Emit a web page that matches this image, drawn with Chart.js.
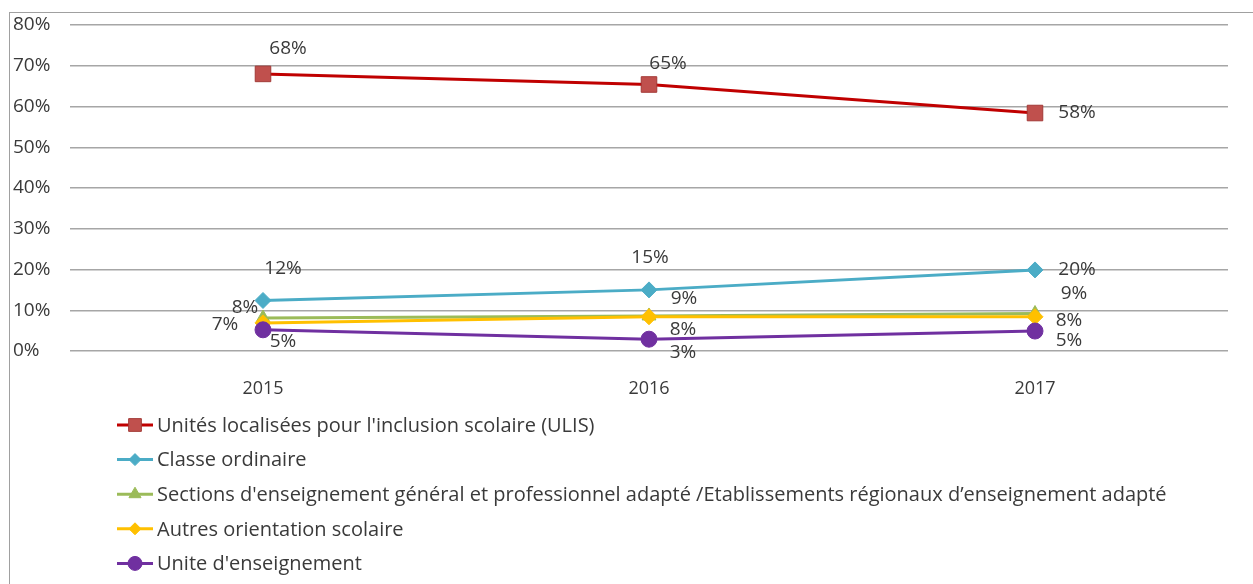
<!DOCTYPE html>
<html>
<head>
<meta charset="utf-8">
<script src="https://cdn.jsdelivr.net/npm/chart.js@4"></script>
<style>
  html, body { margin: 0; padding: 0; background: #fff; }
  #wrap { position: relative; width: 1253px; height: 584px; }
  #frame { position: absolute; left: 9px; top: 12px; right: 0; bottom: 0;
           border-left: 1px solid #a0a0a0; border-top: 1px solid #a0a0a0; }
  canvas { position: absolute; left: 0; top: 0; }
</style>
</head>
<body>
<div id="wrap">
  <div id="frame"></div>
  <canvas id="lineChart" width="1253" height="584"></canvas>
</div>
<script>
const years = ['2015', '2016', '2017'];
const seriesNames = [
  "Unités localisées pour l'inclusion scolaire (ULIS)",
  'Classe ordinaire',
  "Sections d'enseignement général et professionnel adapté /Etablissements régionaux d’enseignement adapté",
  'Autres orientation scolaire',
  "Unite d'enseignement"
];
const ulis = [68, 65.4, 58.4];
const classeOrdinaire = [12.4, 15, 19.9];
const segpaErea = [8.1, 8.6, 9.2];
const autres = [6.9, 8.4, 8.4];
const uniteEns = [5.2, 2.9, 4.9];
const yTicks = [0, 10, 20, 30, 40, 50, 60, 70, 80];

const colors = ['#c00000', '#4bacc6', '#9bbb59', '#ffc000', '#7030a0'];
const markerFill = ['#c0504d', '#4bacc6', '#9bbb59', '#ffc000', '#7030a0'];
const markers = ['rect', 'rectRot', 'triangle', 'rectRot', 'circle'];
const markerSize = [11, 8, 8, 8, 8];
const legendMarkerSize = [9, 6, 7, 6, 7];

// label offsets (dx, dy) from each point, per series
const labelOffsets = [
  [[25, -25], [19, -21], [42, 0]],
  [[20, -32], [1, -32], [42, 0]],
  [[-18, -10], [35, -17], [39, -20]],
  [[-38, 2], [34, 13], [34, 4]],
  [[20, 12], [34, 13], [34, 10]]
];

const values = [ulis, classeOrdinaire, segpaErea, autres, uniteEns];
const FONT = 'Open Sans';
const textColor = '#3a3a3a';

const datasets = values.map((v, i) => ({
  label: seriesNames[i],
  data: v,
  borderColor: colors[i],
  backgroundColor: markerFill[i],
  pointBackgroundColor: markerFill[i],
  pointBorderColor: i === 0 ? '#a33a37' : markerFill[i],
  pointBorderWidth: 1,
  pointStyle: markers[i],
  pointRadius: markerSize[i],
  borderWidth: 3,
  tension: 0,
  order: values.length - i
}));

const dataLabels = {
  id: 'dataLabels',
  afterDatasetsDraw(chart) {
    const c = chart.ctx;
    c.save();
    c.font = '19px "' + FONT + '"';
    c.fillStyle = textColor;
    c.textAlign = 'center';
    c.textBaseline = 'middle';
    chart.data.datasets.forEach((ds, i) => {
      chart.getDatasetMeta(i).data.forEach((pt, j) => {
        const off = labelOffsets[i][j];
        c.fillText(Math.round(ds.data[j]) + '%', pt.x + off[0], pt.y + off[1]);
      });
    });
    c.restore();
  }
};

const legendBlock = {
  id: 'legendBlock',
  afterDraw(chart) {
    const c = chart.ctx;
    const x0 = 117, rowTop = 425, rowGap = 34.6;
    c.save();
    c.font = '20px "' + FONT + '"';
    c.textBaseline = 'middle';
    chart.data.datasets.forEach((ds, i) => {
      const y = rowTop + i * rowGap;
      c.strokeStyle = ds.borderColor;
      c.lineWidth = 3;
      c.beginPath();
      c.moveTo(x0, y);
      c.lineTo(x0 + 36, y);
      c.stroke();
      c.fillStyle = ds.pointBackgroundColor;
      c.strokeStyle = ds.pointBorderColor;
      c.lineWidth = 1;
      Chart.helpers.drawPoint(c, { pointStyle: ds.pointStyle, radius: legendMarkerSize[i], rotation: 0, borderWidth: 1 }, x0 + 18, y);
      c.fillStyle = textColor;
      c.fillText(ds.label, x0 + 40, y + 1);
    });
    c.restore();
  }
};

new Chart(document.getElementById('lineChart'), {
  type: 'line',
  data: { labels: years, datasets: datasets },
  options: {
    responsive: false,
    animation: false,
    layout: { padding: { left: 13, right: 25, top: 25, bottom: 0 } },
    plugins: { legend: { display: false }, tooltip: { enabled: false } },
    scales: {
      x: {
        offset: true,
        grid: { display: false },
        border: { display: false },
        ticks: { color: textColor, font: { family: FONT, size: 18 }, padding: 19 },
        afterFit(s) { s.height = 233; }
      },
      y: {
        min: 0, max: 80,
        afterBuildTicks(s) { s.ticks = yTicks.map(v => ({ value: v })); },
        grid: { color: '#a6a6a6', lineWidth: 1.5, drawTicks: false },
        border: { display: false },
        ticks: {
          crossAlign: 'far', padding: 0,
          color: textColor, font: { family: FONT, size: 19 },
          callback: v => v + '%'
        },
        afterFit(s) { s.width = 57; }
      }
    }
  },
  plugins: [dataLabels, legendBlock]
});
</script>
</body>
</html>
